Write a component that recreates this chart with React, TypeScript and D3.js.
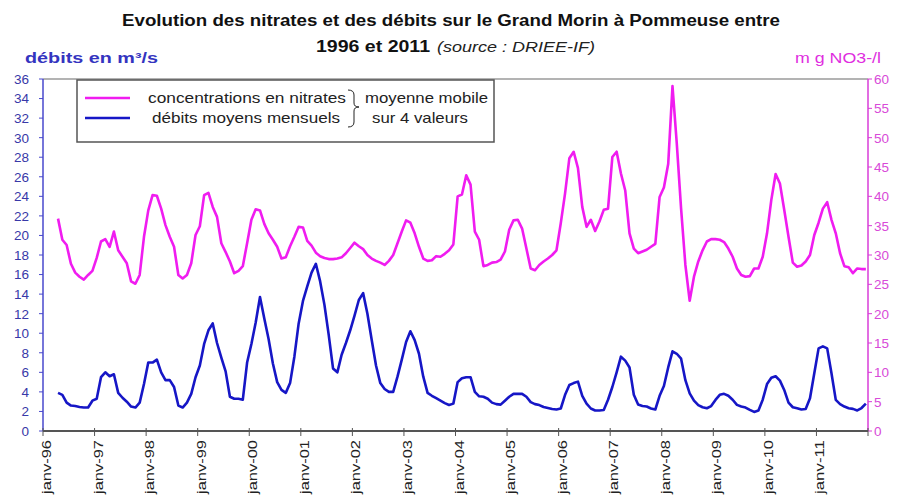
import React from 'react';
import * as d3 from 'd3';

// moyennes mobiles sur 4 valeurs, une ligne par année (janv -> déc)
const nitrates: (number | null)[] = [
  null, null, null, 36.2, 32.6, 31.7, 28.5, 27, 26.3, 25.8, 26.6, 27.3, // 1996
  29.5, 32.3, 32.7, 31.4, 34, 30.8, 29.7, 28.6, 25.5, 25.1, 26.6, 33.1, // 1997
  37.6, 40.2, 40.1, 37.9, 35.1, 33.1, 31.4, 26.6, 26.0, 26.6, 28.6, 33.4, // 1998
  34.9, 40.2, 40.6, 38.2, 36.5, 32, 30.5, 28.9, 26.9, 27.3, 28.1, 32, // 1999
  36, 37.8, 37.6, 35.3, 33.7, 32.6, 31.4, 29.4, 29.6, 31.5, 33.1, 34.8, // 2000
  34.7, 32.4, 31.6, 30.4, 29.8, 29.5, 29.3, 29.3, 29.4, 29.6, 30.3, 31.2, // 2001
  32.1, 31.5, 31.0, 30, 29.4, 29, 28.7, 28.3, 29, 30, 32, 34, // 2002
  35.9, 35.5, 33.7, 31.4, 29.4, 29, 29.1, 29.8, 29.7, 30.2, 30.8, 31.8, // 2003
  40, 40.3, 43.6, 42, 34, 32.6, 28.1, 28.3, 28.7, 28.8, 29.2, 30.6, // 2004
  34.3, 35.9, 36, 34.5, 31.1, 27.7, 27.4, 28.3, 28.9, 29.4, 30, 30.8, // 2005
  35.4, 40.5, 46.5, 47.6, 44.8, 38.2, 34.8, 36, 34.1, 35.7, 37.7, 37.9, // 2006
  46.7, 47.6, 43.9, 41, 33.7, 31.1, 30.3, 30.6, 30.9, 31.4, 31.9, 39.9, // 2007
  41.5, 45.5, 58.8, 49, 37.9, 28.3, 22.2, 26.3, 28.9, 30.8, 32.3, 32.7, // 2008
  32.7, 32.6, 32.2, 31.1, 29.7, 27.7, 26.6, 26.3, 26.4, 27.7, 27.7, 29.7, // 2009
  33.7, 39.4, 43.8, 42.2, 37.7, 33.1, 28.7, 28, 28.2, 28.9, 30, 33.4, // 2010
  35.5, 37.9, 39, 36, 33.7, 30.3, 28.1, 27.9, 26.9, 27.7, 27.6, 27.6, // 2011
];

const debits: (number | null)[] = [
  null, null, null, 3.9, 3.7, 2.9, 2.6, 2.55, 2.45, 2.4, 2.4, 3.1, // 1996
  3.3, 5.5, 6.0, 5.6, 5.8, 3.9, 3.4, 3.0, 2.5, 2.4, 2.9, 4.8, // 1997
  7.0, 7.0, 7.3, 6.0, 5.2, 5.2, 4.5, 2.6, 2.4, 2.9, 3.8, 5.5, // 1998
  6.7, 8.9, 10.3, 11.0, 9.0, 7.5, 6.1, 3.5, 3.3, 3.3, 3.2, 7.0, // 1999
  8.9, 11.1, 13.7, 11.5, 9.4, 6.9, 5.0, 4.2, 3.9, 4.9, 7.6, 11.0, // 2000
  13.3, 14.8, 16.2, 17.1, 15.3, 12.9, 9.8, 6.4, 6.0, 7.8, 9.0, 10.3, // 2001
  11.8, 13.4, 14.1, 12, 9.3, 6.7, 4.9, 4.3, 4.0, 4.0, 5.56, 7.3, // 2002
  9.1, 10.2, 9.3, 7.9, 5.56, 3.9, 3.6, 3.35, 3.1, 2.85, 2.66, 2.8, // 2003
  5.0, 5.4, 5.5, 5.5, 4.0, 3.55, 3.5, 3.3, 2.9, 2.75, 2.7, 3.1, // 2004
  3.5, 3.8, 3.8, 3.8, 3.5, 2.95, 2.75, 2.65, 2.45, 2.35, 2.25, 2.2, // 2005
  2.3, 3.7, 4.7, 4.9, 5.05, 3.6, 2.8, 2.3, 2.1, 2.1, 2.15, 3.2, // 2006
  4.5, 6.0, 7.6, 7.2, 6.5, 3.7, 2.7, 2.55, 2.5, 2.3, 2.2, 3.6, // 2007
  4.6, 6.5, 8.15, 7.9, 7.4, 5.2, 3.85, 3.1, 2.65, 2.43, 2.33, 2.55, // 2008
  3.18, 3.7, 3.8, 3.6, 3.2, 2.67, 2.5, 2.4, 2.16, 1.95, 2.1, 3.2, // 2009
  4.8, 5.45, 5.6, 5.15, 4.2, 2.9, 2.43, 2.33, 2.2, 2.25, 3.35, 5.9, // 2010
  8.45, 8.66, 8.45, 5.9, 3.18, 2.75, 2.5, 2.33, 2.26, 2.1, 2.35, 2.8, // 2011
];

const yearLabels = ['janv-96', 'janv-97', 'janv-98', 'janv-99', 'janv-00', 'janv-01', 'janv-02', 'janv-03',
  'janv-04', 'janv-05', 'janv-06', 'janv-07', 'janv-08', 'janv-09', 'janv-10', 'janv-11'];
const debitTicks = d3.range(0, 37, 2);
const nitrateTicks = d3.range(0, 61, 5);

const W = 901;
const H = 502;
const plot = { left: 43, right: 868, top: 79, bottom: 431 };

const PINK = '#f01cf0';
const BLUE = '#1616c6';
const FONT = "'Liberation Sans', Arial, sans-serif";

export default function App() {
  const months = d3.range(debits.length);
  const x = d3.scaleBand<number>().domain(months).range([plot.left, plot.right]);
  const cx = (i: number) => (x(i) as number) + x.bandwidth() / 2;
  const yLeft = d3.scaleLinear().domain([0, 36]).range([plot.bottom, plot.top]);
  const yRight = d3.scaleLinear().domain([0, 60]).range([plot.bottom, plot.top]);

  const nitrateLine = d3.line<number | null>()
    .defined(d => d != null)
    .x((d, i) => cx(i))
    .y(d => yRight(d as number));
  const debitLine = d3.line<number | null>()
    .defined(d => d != null)
    .x((d, i) => cx(i))
    .y(d => yLeft(d as number));

  const yearStarts = yearLabels.map((_, k) => k * 12);

  return (
    <svg width={W} height={H} style={{ position: 'absolute', left: 0, top: 0, background: '#fff' }} fontFamily={FONT}>
      <rect width={W} height={H} fill="#fff" />

      {/* titre */}
      <text x={122} y={26} fontSize={16} fontWeight="bold" fill="#111" textLength={658} lengthAdjust="spacingAndGlyphs">
        Evolution des nitrates et des débits sur le Grand Morin à Pommeuse entre
      </text>
      <text x={316} y={52} fontSize={16} fontWeight="bold" fill="#111" textLength={114} lengthAdjust="spacingAndGlyphs">
        1996 et 2011
      </text>
      <text x={437} y={52} fontSize={14} fontStyle="italic" fill="#222" textLength={158} lengthAdjust="spacingAndGlyphs">
        (source : DRIEE-IF)
      </text>

      {/* titres d'axes */}
      <text x={25} y={63} fontSize={15} fontWeight="bold" fill="#3434c0" textLength={133} lengthAdjust="spacingAndGlyphs">
        débits en m³/s
      </text>
      <text x={795} y={63} fontSize={14} fill="#e02ee0" textLength={86} lengthAdjust="spacingAndGlyphs">
        m g NO3-/l
      </text>

      {/* cadre */}
      <line x1={plot.left} x2={plot.right} y1={plot.top} y2={plot.top} stroke="#9a9a9a" strokeWidth={1.5} />

      {/* axe gauche */}
      <line x1={plot.left} x2={plot.left} y1={plot.top} y2={plot.bottom} stroke="#4848cc" strokeWidth={1.5} />
      {debitTicks.map(t => (
        <g key={'l' + t}>
          <line x1={plot.left - 4} x2={plot.left} y1={yLeft(t)} y2={yLeft(t)} stroke="#4848cc" strokeWidth={1} />
          <text x={plot.left - 14} y={yLeft(t)} dy="0.36em" textAnchor="end" fontSize={13.5} fill="#3838a8">{t}</text>
        </g>
      ))}

      {/* axe droit */}
      <line x1={plot.right} x2={plot.right} y1={plot.top} y2={plot.bottom} stroke="#d83cd8" strokeWidth={1.5} />
      {nitrateTicks.map(t => (
        <g key={'r' + t}>
          <line x1={plot.right} x2={plot.right + 4} y1={yRight(t)} y2={yRight(t)} stroke="#d83cd8" strokeWidth={1} />
          <text x={plot.right + 6} y={yRight(t)} dy="0.36em" fontSize={13.5} fill="#d84ad8">{t}</text>
        </g>
      ))}

      {/* axe des abscisses */}
      <line x1={plot.left} x2={plot.right} y1={plot.bottom} y2={plot.bottom} stroke="#555" strokeWidth={2} />
      {yearStarts.concat([months.length]).map(m => {
        const px = m < months.length ? (x(m) as number) : plot.right;
        return <line key={'t' + m} x1={px} x2={px} y1={plot.bottom - 3} y2={plot.bottom + 5} stroke="#555" strokeWidth={1} />;
      })}
      {yearLabels.map((lab, k) => {
        const px = (x(yearStarts[k]) as number) + 8;
        return (
          <text key={lab} transform={`translate(${px},440) rotate(-90)`} textAnchor="end" fontSize={13} fill="#222"
            textLength={54} lengthAdjust="spacingAndGlyphs">{lab}</text>
        );
      })}

      {/* séries */}
      <path d={nitrateLine(nitrates) || ''} fill="none" stroke={PINK} strokeWidth={2.6} strokeLinejoin="round" />
      <path d={debitLine(debits) || ''} fill="none" stroke={BLUE} strokeWidth={2.6} strokeLinejoin="round" />

      {/* légende */}
      <rect x={77} y={80} width={417} height={62} fill="#fff" stroke="#555" strokeWidth={1.5} />
      <line x1={85} x2={130} y1={98} y2={98} stroke={PINK} strokeWidth={2.6} />
      <line x1={85} x2={130} y1={118} y2={118} stroke={BLUE} strokeWidth={2.6} />
      <text x={148} y={103} fontSize={15} fill="#222" textLength={198} lengthAdjust="spacingAndGlyphs">concentrations en nitrates</text>
      <text x={152} y={123} fontSize={15} fill="#222" textLength={188} lengthAdjust="spacingAndGlyphs">débits moyens mensuels</text>
      <path d="M348,90 Q354,90 354,95 L354,103 Q354,107 359,107 Q354,107 354,111 L354,122 Q354,127 348,127"
        fill="none" stroke="#222" strokeWidth={1} />
      <text x={365} y={103} fontSize={15} fill="#222" textLength={123} lengthAdjust="spacingAndGlyphs">moyenne mobile</text>
      <text x={372} y={123} fontSize={15} fill="#222" textLength={96} lengthAdjust="spacingAndGlyphs">sur 4 valeurs</text>
    </svg>
  );
}
